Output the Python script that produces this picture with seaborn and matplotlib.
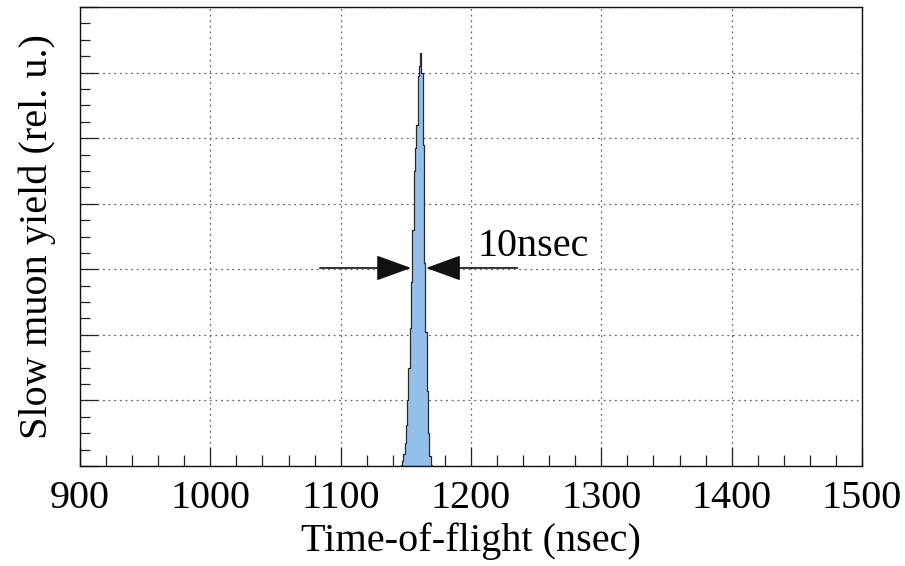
import numpy as np
import pandas as pd
import matplotlib
matplotlib.use("Agg")
import matplotlib.pyplot as plt
from matplotlib.ticker import MultipleLocator
import seaborn as sns

# Time-of-flight histogram, 1 nsec bins (bin centres) and slow muon yield
tof_centers = [1146.5, 1147.5, 1148.5, 1149.5, 1150.5, 1151.5, 1152.5, 1153.5,
               1154.5, 1155.5, 1156.5, 1157.5, 1158.5, 1159.5, 1160.5, 1161.5,
               1162.5, 1163.5, 1164.5, 1165.5, 1166.5, 1167.5, 1168.5, 1169.5]
yields = [0.02, 0.08, 0.18, 0.35, 0.62, 1.0, 1.5, 2.1,
          2.8, 3.6, 4.5, 4.85, 5.2, 5.95, 6.1, 6.3,
          6.0, 4.9, 3.1, 2.05, 1.15, 0.5, 0.15, 0.02]
bin_range = (1146, 1170)

# FWHM marker
fwhm_left = 1154.0
fwhm_right = 1165.5
fwhm_level = 3.02
fwhm_label = "10nsec"

x_ticks = [900, 1000, 1100, 1200, 1300, 1400, 1500]

sns.set_style("white")
plt.rcParams["font.family"] = ["Liberation Serif", "DejaVu Serif"]
plt.rcParams["text.color"] = "black"
plt.rcParams["axes.labelcolor"] = "black"
plt.rcParams["xtick.color"] = "black"
plt.rcParams["ytick.color"] = "black"

fig = plt.figure(figsize=(9.05, 5.66), dpi=100)
ax = fig.add_axes([0.0884, 0.1767, 0.8641, 0.8109])

df = pd.DataFrame({"tof": tof_centers, "yield": yields})
sns.histplot(data=df, x="tof", weights="yield", binwidth=1, binrange=bin_range,
             element="step", fill=True, color="#92C0EA", alpha=1.0,
             edgecolor="#2a2a2a", linewidth=0.9, ax=ax, zorder=2)

ax.set_xlim(900, 1500)
ax.set_ylim(0, 7)
ax.set_xticks(x_ticks)
ax.set_xticklabels([str(t) for t in x_ticks])
ax.xaxis.set_minor_locator(MultipleLocator(20))
ax.yaxis.set_major_locator(MultipleLocator(1))
ax.yaxis.set_minor_locator(MultipleLocator(0.25))
ax.set_yticklabels([])

ax.grid(True, which="major", linestyle=(0, (1.5, 3)), color="#666666",
        linewidth=0.9, zorder=0)
ax.set_axisbelow(True)

ax.tick_params(axis="both", which="both", direction="in", bottom=True, left=True,
               top=False, right=False, color="#222222", width=0.9)
ax.tick_params(axis="x", which="major", length=14, labelsize=29, pad=10)
ax.tick_params(axis="x", which="minor", length=8)
ax.tick_params(axis="y", which="major", length=13)
ax.tick_params(axis="y", which="minor", length=7)

for sp in ax.spines.values():
    sp.set_color("#111111")
    sp.set_linewidth(1.0)

ax.set_xlabel("Time-of-flight (nsec)", fontsize=29, labelpad=4)
ax.set_ylabel("Slow muon yield (rel. u.)", fontsize=29, labelpad=14)

arrow_kw = dict(arrowstyle="-|>,head_length=2.2,head_width=0.8",
                color="#111111", lw=1.2, shrinkA=0, shrinkB=0)
ax.annotate("", xy=(fwhm_left, fwhm_level), xytext=(1084, fwhm_level),
            arrowprops=arrow_kw, zorder=5)
ax.annotate("", xy=(fwhm_right, fwhm_level), xytext=(1235.5, fwhm_level),
            arrowprops=arrow_kw, zorder=5)
ax.text(1205, fwhm_level + 0.33, fwhm_label, fontsize=29, ha="left", va="center")

fig.savefig("out.png", dpi=100)
